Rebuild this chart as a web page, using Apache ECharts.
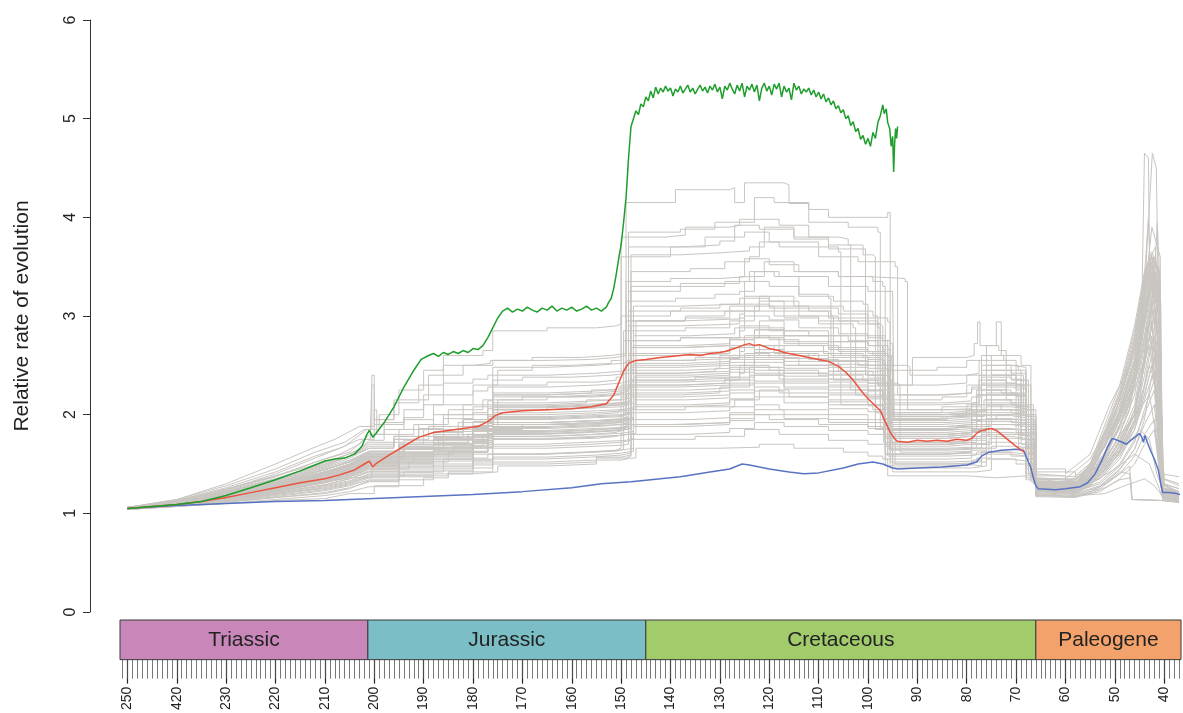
<!DOCTYPE html>
<html><head><meta charset="utf-8">
<script src="https://cdn.jsdelivr.net/npm/echarts@6/dist/echarts.min.js"></script>
<style>html,body{margin:0;padding:0;background:#fff}#c{width:1183px;height:713px}</style>
</head><body><div id="c"></div>
<script>
// ---------- DATA (age in Ma, relative rate) ----------
const tickValues = [250,240,230,220,210,200,190,180,170,160,150,140,130,120,110,100,90,80,70,60,50,40];
const tickLabels = ['250','420','230','220','210','200','190','180','170','160','150','140','130','120','110','100','90','80','70','60','50','40'];
const yTicks = [0,1,2,3,4,5,6];

const periodNames = ['Triassic','Jurassic','Cretaceous','Paleogene'];
const periodStart = [251.9, 201.3, 145, 66];
const periodEnd = [201.3, 145, 66, 23];
const periodColors = ['#C886B9','#7BBEC5','#A2CB6C','#F3A26C'];

const gray01 = [250,1.04,240,1.07,230,1.10,220,1.13,210,1.15,205,1.20,200,1.28,190,1.36,185,1.40,180,1.42,175,1.48,165,1.50,155,1.54,150,1.56,148,1.56,147,1.66,130,1.67,122,1.70,115,1.66,105,1.62,100,1.58,97,1.55,96,1.38,80,1.36,74,1.38,68,1.34,66,1.20,60,1.17,52,1.20,48,1.28,44,1.35,42,1.28,40,1.15,37,1.13];
const gray02 = [250,1.05,240,1.08,230,1.12,220,1.16,210,1.20,205,1.25,201,1.33,195,1.38,185,1.42,176,1.50,165,1.52,155,1.56,149,1.58,148,1.75,135,1.78,125,1.85,118,1.80,108,1.74,100,1.70,96,1.66,95,1.42,78,1.44,75,1.55,70,1.50,67,1.36,66,1.25,58,1.22,55,1.30,50,1.45,46,1.60,43,1.50,41,1.25,40.5,1.18,37,1.16];
const gray03 = [250,1.05,240,1.09,230,1.14,220,1.20,210,1.25,205,1.30,201,1.38,194,1.42,186,1.55,176,1.60,168,1.62,158,1.64,151,1.66,150,1.90,140,1.92,128,2.00,120,1.95,110,1.90,100,1.86,95,1.82,94.5,1.50,80,1.48,77,1.62,71,1.58,67,1.40,66,1.28,58,1.25,54,1.35,49,1.60,45,1.85,43,1.75,41.5,1.40,40,1.20,37,1.18];
const gray04 = [250,1.05,240,1.10,230,1.16,220,1.22,212,1.30,205,1.36,200.5,1.45,193,1.52,185,1.62,177,1.70,166,1.72,157,1.74,149,1.76,147.5,2.05,137,2.08,127,2.15,122,2.25,116,2.18,108,2.10,99,2.05,96.5,2.00,96,1.60,85,1.62,79,1.66,76,1.90,70,1.85,68,1.60,66,1.32,58,1.30,53,1.45,49,1.80,45,2.05,43,2.20,42,1.90,40.2,1.25,37,1.22];
const gray05 = [250,1.06,240,1.10,230,1.18,220,1.26,210,1.36,205,1.42,201,1.52,192,1.60,184,1.68,178,1.80,168,1.82,158,1.84,152,1.86,149,2.20,138,2.22,130,2.28,124,2.40,117,2.32,108,2.25,100,2.18,97,2.12,96.8,1.72,82,1.74,79,1.95,74,2.00,70,1.90,67,1.55,66,1.30,57,1.28,52,1.55,48,2.00,45,2.40,43,2.70,41.5,2.20,40,1.30,37,1.25];
const gray06 = [250,1.05,240,1.11,230,1.20,220,1.30,210,1.42,205,1.50,201,1.60,195,1.68,188,1.75,180,1.85,170,1.90,160,1.92,150,1.95,148,2.35,135,2.38,126,2.50,120,2.45,110,2.40,101,2.35,98,2.30,97.5,1.85,82,1.88,78,2.10,73,2.05,69,1.80,66.5,1.35,58,1.33,52,1.60,47,2.10,44,3.00,42.5,3.40,41,2.60,40,1.28,37,1.20];
const gray07 = [250,1.06,240,1.12,230,1.22,220,1.34,210,1.48,205,1.58,201,1.70,196,1.78,190,1.85,182,1.95,176,2.05,165,2.08,155,2.10,150,2.12,147,2.55,135,2.58,126,2.70,119,2.62,110,2.55,100,2.50,95.5,2.45,95,2.00,82,2.02,77,2.30,72,2.20,68,1.90,66,1.40,58,1.37,54,1.50,50,1.90,46,2.40,43.5,3.50,41.8,3.70,41,3.00,40.3,1.35,37,1.28];
const gray08 = [250,1.06,240,1.13,230,1.25,220,1.38,210,1.55,205,1.62,202,1.75,200,2.05,199.5,1.80,192,1.90,185,2.05,178,2.15,170,2.18,160,2.20,151,2.22,149.5,2.75,138,2.78,126,2.90,120,2.85,112,2.80,104,2.75,98,2.70,97,2.15,85,2.18,80,2.30,76,2.50,71,2.45,68,2.10,66.5,1.38,60,1.35,55,1.55,50,2.00,46,2.70,44,3.20,42.5,3.90,40.8,3.60,40.5,1.30,37,1.25];
const gray09 = [250,1.05,240,1.12,230,1.24,220,1.40,210,1.60,206,1.68,201.5,1.85,200.5,2.40,200,1.90,194,1.95,188,2.10,180,2.30,175,2.45,168,2.50,160,2.52,152,2.55,150,3.00,140,3.05,128,3.10,122,3.20,115,3.10,105,3.05,99,3.00,98,2.30,86,2.32,80,2.40,76,2.70,74,2.94,73,2.60,69,2.50,67,1.45,60,1.40,55,1.60,51,2.10,47,2.50,44.5,3.20,44,4.65,43.2,4.60,42.8,2.80,40,1.35,37,1.30];
const gray10 = [250,1.06,240,1.14,230,1.28,220,1.45,212,1.62,206,1.72,202,1.85,199,2.00,195,2.25,190,2.45,186,2.60,178,2.65,176,2.85,165,2.88,155,2.90,151,2.92,150,3.60,140,3.70,133,3.80,125,3.85,120,3.75,110,3.70,106,3.65,105.5,2.60,96,2.55,95.5,2.00,84,2.02,78,2.20,72,2.15,68,1.85,66.5,1.30,59,1.28,55,1.40,50,1.90,45.5,2.60,44,3.40,43.2,4.00,42.5,3.00,40.8,1.90,40.3,1.25,37,1.20];
const gray11 = [250,1.06,240,1.14,230,1.30,220,1.50,213,1.65,208,1.75,203,1.88,200,1.95,196,2.15,189,2.40,182,2.50,176,2.55,168,2.58,158,2.60,152,2.62,149,4.15,139,4.28,128,4.30,127,4.15,125,4.35,117,4.33,116,4.14,112,4.08,108,4.00,96,4.05,95.5,2.30,91,2.58,80,2.60,78.5,2.72,77.8,2.94,77.3,2.70,73.5,2.65,72,2.20,68,1.95,66.5,1.35,60,1.32,56,1.40,52,1.75,47,2.20,44.5,2.80,42.4,4.65,41.6,4.50,41.2,3.20,40.5,1.30,37,1.22];
const gray12 = [250,1.05,240,1.12,230,1.24,220,1.38,210,1.52,204,1.62,201,1.72,195,1.85,188,2.00,182,2.10,176,2.35,170,2.38,160,2.40,152,2.42,148.5,3.85,138,3.88,131,3.95,124,3.95,123,4.20,119,4.15,112,3.95,104,3.90,98,3.85,97.5,2.45,86,2.48,80,2.55,77,2.60,75,2.40,70,2.30,67,1.60,66,1.32,58,1.30,53,1.50,48,1.95,45,2.50,43,3.10,41,3.40,40.2,1.28,37,1.22];
const gray13 = [250,1.05,240,1.11,230,1.22,220,1.35,210,1.50,205,1.58,201,1.66,196,1.75,189,1.88,182,2.00,176,2.20,166,2.22,156,2.25,151,2.28,148,3.45,136,3.48,129,3.55,124,3.60,122,3.75,118,3.70,110,3.60,102,3.55,94.5,3.50,94,2.20,86,2.22,79,2.28,77,2.60,72.5,2.55,70,2.05,66.5,1.42,58,1.38,54,1.55,50,1.85,46,2.30,44,3.30,42,3.60,40.4,1.40,37,1.37];
const gray14 = [250,1.05,240,1.10,230,1.20,220,1.32,210,1.45,205,1.52,201,1.60,195,1.70,190,1.78,183,1.92,176,2.10,166,2.12,157,2.15,150,2.18,148.5,3.25,138,3.30,129,3.35,124,3.40,121,3.55,115,3.45,106,3.40,99,3.35,97,3.30,96.5,2.10,85,2.12,78,2.20,76,2.45,71,2.40,68.5,2.00,66,1.35,58,1.30,54,1.42,50,1.70,47,2.05,44,2.90,42.5,3.30,41,2.60,40.5,1.22,37,1.18];
const gray15 = [250,1.05,240,1.10,230,1.19,220,1.30,210,1.42,205,1.49,201,1.57,194,1.66,187,1.75,180,1.85,176,1.98,165,2.00,156,2.02,150.5,2.05,149,2.95,137,3.00,129,3.05,123,3.10,119,3.00,110,2.95,102,2.92,97.5,2.90,97,1.95,85,1.98,79.5,2.05,77,2.25,72,2.20,69,1.88,66.5,1.30,58,1.28,54,1.40,50,1.70,46,2.00,44,2.50,42.8,3.00,41,2.30,40.5,1.20,37,1.17];
const gray16 = [250,1.05,240,1.09,230,1.17,220,1.27,210,1.38,205,1.45,201,1.52,195,1.60,188,1.70,180,1.78,176,1.90,166,1.92,156,1.94,150,1.96,147.5,2.80,136,2.82,127,2.88,122,2.95,117,2.85,108,2.80,100,2.75,95.5,2.72,95,1.90,85,1.92,79,1.98,76.5,2.15,71,2.10,68,1.75,66,1.28,58,1.26,53,1.38,49,1.62,46,1.95,44,2.30,42,2.70,40.6,2.10,40.2,1.18,37,1.15];
const gray17 = [250,1.05,240,1.09,230,1.16,220,1.25,210,1.35,205,1.42,201,1.48,195,1.55,188,1.64,180,1.72,176,1.82,166,1.84,156,1.86,151,1.88,148.5,2.60,137,2.62,128,2.68,123,2.78,118,2.70,109,2.62,101,2.58,97,2.55,96.5,1.80,84,1.82,78,1.88,75,2.05,70,2.00,67,1.45,66,1.26,58,1.24,53,1.35,49,1.55,46,1.85,44,2.15,42,2.45,40.4,1.17,37,1.14];
const gray18 = [250,1.04,240,1.08,230,1.14,220,1.22,210,1.31,205,1.37,201,1.43,195,1.50,188,1.58,180,1.66,176,1.75,166,1.77,156,1.79,150,1.81,147,2.40,136,2.42,128,2.48,123,2.58,117,2.50,108,2.44,100,2.40,95.8,2.36,95.3,1.70,84,1.72,78,1.78,75.5,1.95,70,1.92,67.5,1.50,66,1.24,58,1.22,53,1.32,49,1.50,46,1.75,44,2.00,42,2.25,40.3,1.16,37,1.13];
const gray19 = [250,1.04,240,1.08,230,1.13,220,1.20,210,1.28,205,1.33,201,1.40,195,1.46,188,1.53,180,1.60,176,1.68,166,1.70,156,1.72,150,1.74,148,2.25,136,2.27,128,2.32,123,2.42,118,2.36,108,2.30,100,2.25,96,2.22,95.6,1.65,84,1.66,78,1.70,75,1.85,70,1.82,67.5,1.42,66,1.22,58,1.20,53,1.28,49,1.45,46,1.65,44,1.90,42,2.10,40.3,1.15,37,1.12];
const gray20 = [250,1.04,240,1.07,230,1.12,220,1.18,210,1.24,205,1.29,201,1.36,195,1.41,188,1.47,180,1.53,176,1.60,166,1.62,156,1.64,150,1.66,147.5,2.10,136,2.12,128,2.16,123,2.28,118,2.22,108,2.15,100,2.10,96.5,2.07,96,1.58,84,1.59,78,1.62,75.5,1.76,70,1.74,67,1.38,66,1.20,58,1.18,53,1.25,49,1.40,46,1.58,44,1.80,42,1.95,40.3,1.14,37,1.11];
const gray21 = [250,1.05,240,1.11,230,1.21,220,1.33,210,1.46,205,1.54,201,1.63,194,1.74,186,1.85,177,1.98,176,2.30,165,2.33,155,2.35,151,2.38,150,3.80,141,3.82,137,3.90,128,3.92,126,3.98,118,3.92,112,3.80,106,3.78,104,3.72,103.5,2.25,97,2.22,96.5,1.80,84,1.82,79,1.90,76,2.12,70,2.08,67,1.50,66,1.28,58,1.26,53,1.40,48,1.70,45,2.05,43,2.50,41,2.20,40.2,1.20,37,1.17];
const gray22 = [250,1.05,240,1.10,230,1.19,220,1.30,210,1.41,205,1.48,201,1.56,194,1.65,186,1.75,177,1.88,175,2.15,165,2.18,155,2.20,150,2.22,148,3.62,138,3.64,130,3.66,124,3.70,121,3.90,115,3.80,108,3.68,101,3.62,99,3.60,98.5,2.02,85,2.05,80,2.10,77.5,2.35,72,2.30,69,1.95,66.2,1.32,58,1.29,53,1.42,49,1.68,45,2.10,43.5,2.90,41.5,3.10,40.4,1.22,37,1.19];
const gray23 = [250,1.05,240,1.10,230,1.18,220,1.28,210,1.40,205,1.47,201,1.55,195,1.62,188,1.72,181,1.80,177,1.86,176,2.05,165,2.07,155,2.10,151,2.12,149,3.15,139,3.18,131,3.22,126,3.25,123,3.45,119,3.40,114,3.20,107,3.15,101,3.12,100,2.80,96.5,2.75,96,2.00,85,2.02,80,2.05,76,2.35,72,2.32,70,2.25,69,1.70,66.3,1.30,58,1.27,54,1.35,50,1.55,46,1.90,44,2.30,42.5,2.75,40.8,1.60,40.3,1.19,37,1.16];
const gray24 = [250,1.05,240,1.10,230,1.17,220,1.26,210,1.36,205,1.43,201,1.50,195,1.57,188,1.66,180,1.74,176,1.80,166,1.82,156,1.84,150,1.86,148,2.50,137,2.52,128,2.58,123,2.66,118,2.60,110,2.54,102,2.50,92,2.48,91.5,2.40,80,2.42,77.5,2.55,72,2.50,69.5,2.45,69,1.75,66.2,1.30,58,1.28,54,1.38,50,1.60,46,2.00,44,2.60,42.2,3.20,41.4,3.94,40.7,3.10,40.3,1.22,37,1.19];
const gray25 = [250,1.06,240,1.13,230,1.26,220,1.42,212,1.58,207,1.66,203,1.75,200.8,1.85,200.5,2.30,200,1.95,196,2.12,191,2.30,186,2.50,180,2.52,176.5,2.55,165,2.56,156,2.58,151,2.60,149,3.35,140,3.38,130,3.40,124,3.45,118,3.40,108,3.30,100,3.25,95,3.20,94.7,1.95,84,1.98,80,2.05,75,2.40,70,2.35,67.5,1.75,66,1.30,58,1.28,54,1.38,50,1.65,46,2.00,44,2.55,42,3.00,40.4,1.20,37,1.16];
const gray26 = [250,1.04,240,1.07,230,1.11,220,1.16,210,1.21,205,1.26,201,1.32,195,1.37,188,1.43,180,1.49,176,1.55,166,1.57,156,1.59,150,1.61,148,1.95,136,1.97,128,2.02,123,2.10,118,2.05,108,2.00,100,1.95,96,1.93,95.5,1.52,84,1.53,78,1.56,75,1.68,70,1.66,67,1.32,66,1.18,58,1.17,53,1.22,49,1.35,46,1.50,44,1.70,42,1.85,40.3,1.13,37,1.11];
const gray27 = [250,1.05,240,1.09,230,1.15,220,1.23,210,1.32,205,1.39,201,1.46,195,1.52,188,1.60,180,1.67,176,1.78,166,1.80,156,1.82,151,1.84,150,2.30,138,2.32,129,2.36,124,2.48,118,2.42,108,2.36,100,2.32,94,2.30,93.5,1.62,84,1.63,79,1.66,77,1.80,70,1.78,67,1.36,66,1.21,58,1.19,53,1.27,49,1.44,46,1.65,44,1.95,42.5,2.40,41,2.10,40.2,1.15,37,1.12];
const gray28 = [250,1.05,240,1.10,230,1.19,220,1.31,210,1.44,205,1.52,201,1.61,195,1.70,188,1.82,182,1.95,177,2.08,176,2.22,165,2.24,155,2.26,150,2.28,147.5,2.70,137,2.72,128,2.78,122,2.88,117,2.80,108,2.74,100,2.70,96,2.66,95.7,1.86,84,1.88,78,1.93,76,2.10,70,2.08,67.5,1.62,66,1.27,58,1.25,53,1.36,49,1.58,46,1.90,44,2.20,42,2.60,40.4,1.18,37,1.15];
const gray29 = [250,1.05,240,1.10,230,1.18,220,1.29,210,1.41,205,1.49,201,1.58,195,1.66,188,1.77,182,1.88,177,2.00,165,2.02,155,2.04,149,2.06,147,2.95,137,2.98,128,3.05,122,3.15,117,3.05,108,2.98,100,2.95,98,2.92,97.5,2.05,85,2.08,79,2.12,77.5,2.40,71,2.36,69,2.00,66.5,1.32,58,1.30,53,1.40,49,1.65,46,2.05,44,2.60,42.5,3.20,41.2,3.50,40.6,1.25,37,1.20];
const gray30 = [250,1.05,240,1.10,230,1.18,220,1.28,210,1.39,205,1.46,201,1.54,195,1.62,188,1.71,181,1.80,176,1.92,165,1.94,155,1.96,150,1.98,148.5,3.05,138,3.08,130,3.12,125,3.18,120,3.10,112,3.05,107.5,3.00,107,2.35,97,2.30,96.5,1.76,84,1.78,79,1.83,76,2.00,70,1.98,67,1.40,66,1.24,58,1.22,53,1.30,49,1.48,46,1.72,44,2.05,42,2.35,40.3,1.16,37,1.13];
const gray31 = [250,1.05,240,1.08,230,1.13,220,1.19,210,1.27,205,1.32,201,1.39,195,1.44,188,1.50,180,1.56,177,1.60,176,1.66,165,1.68,155,1.69,150,1.70,148.5,1.90,137,1.92,128,1.96,123,2.05,117,2.00,108,1.95,100,1.92,95.5,1.90,95,1.50,84,1.51,79,1.54,77,1.62,71,1.60,68,1.40,66,1.19,58,1.17,55,1.22,52,1.30,49,1.42,47,1.40,46.5,1.14,40.5,1.13,37,1.12];
const gray32 = [250,1.05,240,1.09,230,1.15,220,1.22,210,1.31,205,1.37,201,1.45,195,1.50,188,1.57,180,1.63,177,1.68,176,1.75,165,1.76,155,1.78,151,1.80,149.5,2.02,137,2.04,128,2.08,123,2.18,117,2.12,108,2.06,100,2.03,97,2.00,96.5,1.55,84,1.56,79,1.60,76,1.72,71,1.70,68,1.45,66,1.22,58,1.20,55,1.28,52,1.45,49,1.65,46,1.95,44,2.40,42.5,2.80,41,2.20,40.3,1.16,37,1.14];
const gray33 = [250,1.05,240,1.09,230,1.14,220,1.21,210,1.29,205,1.35,201,1.42,195,1.47,188,1.55,180,1.62,177,1.70,176,1.78,165,1.80,155,1.81,150,1.83,147.5,2.15,137,2.17,128,2.22,123,2.32,117,2.26,108,2.20,100,2.16,96,2.14,95.5,1.64,84,1.65,79,1.70,76,1.82,71,1.80,67.5,1.40,66,1.23,58,1.21,55,1.30,52,1.50,49,1.75,46,2.10,44,2.70,42.5,3.10,41,2.50,40.3,1.18,37,1.15];
const gray34 = [250,1.05,240,1.09,230,1.15,220,1.23,210,1.33,205,1.39,201,1.47,195,1.53,188,1.61,180,1.68,177,1.74,176,1.83,165,1.85,155,1.86,150,1.88,148,2.22,137,2.24,128,2.30,123,2.40,117,2.34,108,2.28,100,2.24,97,2.20,96.5,1.68,84,1.70,79,1.74,76,1.90,71,1.88,68,1.55,66,1.25,58,1.23,55,1.34,52,1.58,49,1.90,46,2.30,44,2.90,42.5,3.30,41,2.80,40.3,1.19,37,1.16];
const gray35 = [250,1.05,240,1.10,230,1.16,220,1.24,210,1.35,205,1.41,201,1.49,195,1.55,188,1.63,180,1.71,177,1.77,176,1.87,165,1.89,155,1.90,150,1.92,148.5,2.30,137,2.32,128,2.38,123,2.48,117,2.42,108,2.36,100,2.32,96,2.28,95.5,1.72,84,1.74,79,1.78,76,1.96,71,1.94,68,1.60,66,1.26,58,1.24,55,1.36,52,1.62,49,1.98,46,2.45,44,3.10,42.5,3.45,41,3.00,40.3,1.20,37,1.17];
const gray36 = [250,1.05,240,1.10,230,1.17,220,1.26,210,1.37,205,1.44,201,1.52,195,1.59,188,1.67,180,1.75,177,1.81,176,1.92,165,1.94,155,1.95,150,1.97,147.5,2.38,137,2.40,128,2.46,123,2.56,117,2.50,108,2.44,100,2.40,97,2.36,96.5,1.78,84,1.80,79,1.84,76,2.02,71,2.00,68,1.66,66,1.28,58,1.26,55,1.40,52,1.70,49,2.05,46,2.55,44,3.20,42.5,3.55,41,3.10,40.3,1.22,37,1.18];
const gray37 = [250,1.05,240,1.10,230,1.18,220,1.27,210,1.39,205,1.46,201,1.55,195,1.62,188,1.71,180,1.79,177,1.85,176,1.97,165,1.99,155,2.00,150,2.02,148,2.45,137,2.47,128,2.53,123,2.63,117,2.57,108,2.51,100,2.47,96,2.43,95.5,1.82,84,1.84,79,1.88,76,2.08,71,2.06,68,1.70,66,1.29,58,1.27,55,1.42,52,1.75,49,2.15,46,2.65,44,3.30,42.5,3.60,41,3.20,40.3,1.23,37,1.19];
const gray38 = [250,1.05,240,1.10,230,1.18,220,1.28,210,1.40,205,1.48,201,1.57,195,1.65,188,1.74,180,1.83,177,1.89,176,2.02,165,2.04,155,2.05,150,2.07,147.5,2.52,137,2.54,128,2.60,123,2.70,117,2.64,108,2.58,100,2.54,97,2.50,96.5,1.88,84,1.90,79,1.95,76,2.15,71,2.12,68,1.75,66,1.30,58,1.28,55,1.45,52,1.80,49,2.20,46,2.75,44,3.35,42.5,3.50,41,3.30,40.3,1.24,37,1.20];
const gray39 = [250,1.05,240,1.11,230,1.19,220,1.30,210,1.42,205,1.50,201,1.59,195,1.67,188,1.77,180,1.86,177,1.93,176,2.07,165,2.09,155,2.10,150,2.12,148.5,2.60,137,2.62,128,2.68,123,2.78,117,2.72,108,2.66,100,2.62,96,2.58,95.5,1.92,84,1.94,79,1.99,76,2.20,71,2.18,68,1.80,66,1.31,58,1.29,55,1.48,52,1.85,49,2.25,46,2.85,44,3.40,42.5,3.60,41,3.40,40.3,1.25,37,1.21];
const gray40 = [250,1.05,240,1.11,230,1.20,220,1.31,210,1.44,205,1.52,201,1.62,195,1.70,188,1.80,180,1.89,177,1.96,176,2.12,165,2.14,155,2.15,150,2.17,148,2.68,137,2.70,128,2.76,123,2.86,117,2.80,108,2.74,100,2.70,97,2.66,96.5,1.96,84,1.98,79,2.03,76,2.25,71,2.22,68,1.85,66,1.32,58,1.30,55,1.50,52,1.90,49,2.30,46,2.90,44,3.45,42.5,3.65,41,3.45,40.3,1.26,37,1.22];
const gray41 = [250,1.04,240,1.08,230,1.13,220,1.19,210,1.26,205,1.31,201,1.37,195,1.42,188,1.48,180,1.54,176,1.60,165,1.62,155,1.63,151,1.65,149.5,2.85,137,2.88,128,2.95,123,3.05,117,2.98,110,2.92,103,2.88,102.5,2.20,97,2.15,96.5,1.70,84,1.72,79,1.76,77,1.95,71,1.92,68,1.62,66,1.26,58,1.24,55,1.32,52,1.48,49,1.72,46,2.05,44,2.50,42.5,2.95,41,2.40,40.3,1.17,37,1.14];
const gray42 = [250,1.05,240,1.10,230,1.17,220,1.26,210,1.36,205,1.43,201,1.51,195,1.58,188,1.66,180,1.73,177,1.78,176,1.88,165,1.90,155,1.92,150,1.94,148,2.42,138,2.44,131,2.47,130,2.60,122,2.70,118,2.62,112,2.56,106,2.50,105.5,2.10,97,2.08,96.5,1.60,84,1.62,79,1.66,74,1.80,70,1.78,67,1.42,66,1.24,58,1.22,55,1.30,52,1.42,49,1.62,46,1.85,44,2.20,42.5,2.50,41,2.00,40.3,1.16,37,1.13];
const gray43 = [250,1.05,240,1.09,230,1.16,220,1.25,210,1.34,205,1.40,201,1.48,195,1.54,188,1.62,180,1.69,177,1.74,176,1.84,165,1.86,155,1.87,150,1.89,148.5,2.33,138,2.35,126,2.42,125,2.62,120,2.58,114,2.50,106,2.44,99,2.40,98.5,1.85,88,1.86,84,1.88,79,1.92,78,2.25,73,2.22,70,2.18,69.5,1.66,66,1.28,58,1.26,55,1.38,52,1.60,49,1.88,46,2.30,44,2.80,42.5,3.15,41,2.70,40.3,1.19,37,1.16];
const gray44 = [250,1.05,240,1.10,230,1.17,220,1.27,210,1.38,205,1.45,201,1.53,195,1.60,188,1.69,180,1.77,177,1.83,176,1.95,165,1.97,155,1.98,150,2.00,149,2.55,138,2.57,126,2.64,125,2.80,120,2.76,114,2.70,106,2.64,99,2.60,95.2,2.56,94.8,1.98,84,2.00,79,2.05,76,2.30,71,2.28,68,1.90,66,1.33,58,1.31,55,1.44,52,1.68,49,1.98,46,2.40,44,3.00,42.5,3.35,41,3.10,40.3,1.22,37,1.18];
const gray45 = [250,1.05,240,1.10,230,1.18,220,1.29,210,1.41,205,1.49,201,1.58,195,1.66,188,1.76,180,1.86,177,1.93,176,2.08,165,2.10,155,2.12,150,2.14,148,2.75,138,2.78,126,2.85,125,3.00,120,2.96,114,2.88,106,2.82,100,2.78,97,2.75,96.5,2.12,84,2.14,79,2.18,77,2.45,71,2.42,68,1.98,66,1.35,58,1.33,55,1.48,52,1.75,49,2.10,46,2.55,44,3.15,42.5,3.50,41,3.20,40.3,1.24,37,1.20];
const gray46 = [250,1.05,240,1.11,230,1.20,220,1.31,210,1.44,205,1.53,201,1.63,195,1.72,188,1.83,180,1.93,177,2.00,176,2.18,165,2.20,155,2.22,150,2.24,148.5,2.90,138,2.92,126,2.98,125,3.12,120,3.08,114,3.00,106,2.95,100,2.92,98,2.88,97.5,2.20,84,2.22,79,2.26,77,2.50,71,2.48,68,2.05,66,1.36,58,1.34,55,1.50,52,1.80,49,2.15,46,2.65,44,3.25,42.5,3.55,41,3.30,40.3,1.26,37,1.21];
const gray47 = [250,1.04,240,1.07,230,1.10,220,1.14,210,1.18,205,1.22,201,1.27,195,1.34,188,1.40,180,1.46,176,1.52,165,1.54,155,1.57,150,1.59,148,1.80,137,1.82,128,1.86,123,1.92,117,1.88,108,1.84,100,1.80,96,1.78,95.5,1.46,84,1.46,79,1.48,76,1.55,71,1.53,68,1.36,66,1.17,58,1.16,55,1.20,52,1.26,49,1.34,46.8,1.36,46.5,1.14,40.5,1.13,37,1.12];
const gray48 = [250,1.05,240,1.08,230,1.12,220,1.17,210,1.23,205,1.28,201,1.34,195,1.39,188,1.45,180,1.51,176,1.57,165,1.59,155,1.61,150,1.63,147.5,1.88,137,1.90,128,1.94,123,2.00,117,1.96,108,1.92,100,1.88,97,1.85,96.5,1.48,84,1.49,79,1.52,76,1.60,71,1.58,68,1.38,66,1.18,58,1.17,55,1.21,52,1.30,49,1.40,47,1.48,46.6,1.14,40.5,1.13,37,1.11];
const gray49 = [250,1.06,240,1.12,230,1.23,220,1.37,212,1.52,207,1.60,203,1.70,201,1.80,198,1.92,194,2.05,190,2.20,186,2.32,180,2.36,177,2.40,176,2.48,165,2.50,155,2.52,150,2.54,148,3.30,138,3.33,126,3.40,125,3.58,120,3.52,114,3.45,106,3.40,100,3.38,92.5,3.35,92,2.05,84,2.06,79,2.10,77,2.38,71,2.35,68,1.92,66,1.33,58,1.31,55,1.45,52,1.70,49,2.05,46,2.50,44,3.05,42.5,3.40,41,3.20,40.3,1.23,37,1.19];
const gray50 = [250,1.06,240,1.12,230,1.22,220,1.35,212,1.48,207,1.56,203,1.65,201,1.74,198,1.85,194,1.97,190,2.10,186,2.20,180,2.24,177,2.28,176,2.40,165,2.42,155,2.44,150,2.46,147.5,3.10,138,3.12,126,3.18,125,3.35,120,3.30,114,3.22,108,3.18,107.5,2.60,100,2.56,97,2.52,96.5,1.88,84,1.90,79,1.94,77,2.20,71,2.18,68,1.82,66,1.30,58,1.28,55,1.40,52,1.62,49,1.95,46,2.40,44,2.95,42.5,3.30,41,3.00,40.3,1.21,37,1.17];
const gray51 = [250,1.05,240,1.11,230,1.21,220,1.33,210,1.47,205,1.56,201,1.66,196,1.75,191,1.86,186,1.96,180,2.02,177,2.06,176,2.20,165,2.22,155,2.24,150,2.26,148,2.95,138,2.97,126,3.02,125,3.20,120,3.15,114,3.08,106,3.02,100,2.98,96,2.94,95.5,2.02,84,2.04,79,2.08,77,2.32,71,2.30,68,1.90,66,1.32,58,1.30,55,1.43,52,1.68,49,2.00,46,2.45,44,3.00,42.5,3.35,41,3.10,40.3,1.22,37,1.18];
const gray52 = [250,1.05,240,1.09,230,1.15,220,1.23,210,1.32,205,1.38,201,1.45,195,1.51,188,1.59,180,1.66,177,1.72,176,1.81,165,1.83,155,1.84,150,1.86,148,2.18,138,2.20,128,2.25,123,2.34,117,2.28,108,2.22,100,2.18,96,2.15,95.5,1.66,84,1.67,79,1.71,76,1.86,71,1.84,68,1.55,66,1.25,58,1.23,55,1.32,52,1.52,49,1.80,46,2.20,44,2.75,42.5,3.05,41,2.70,40.3,1.18,37,1.15];
const gray53 = [250,1.05,240,1.10,230,1.16,220,1.25,210,1.35,205,1.42,201,1.50,195,1.57,188,1.65,180,1.73,177,1.79,176,1.90,165,1.92,155,1.93,150,1.95,148.5,2.35,138,2.37,128,2.43,123,2.53,117,2.47,108,2.41,100,2.37,97,2.33,96.5,1.76,84,1.78,79,1.82,76,1.99,71,1.97,68,1.65,66,1.27,58,1.25,55,1.37,52,1.62,49,1.95,46,2.40,44,3.00,42.5,3.40,41,3.00,40.3,1.20,37,1.17];
const gray54 = [250,1.05,240,1.10,230,1.17,220,1.27,210,1.38,205,1.45,201,1.54,195,1.61,188,1.70,180,1.78,177,1.84,176,1.96,165,1.98,155,1.99,150,2.01,148,2.48,138,2.50,128,2.56,123,2.66,117,2.60,108,2.54,100,2.50,96,2.46,95.5,1.84,84,1.86,79,1.90,76,2.10,71,2.08,68,1.72,66,1.29,58,1.27,55,1.42,52,1.72,49,2.10,46,2.60,44,3.20,42.5,3.50,41,3.20,40.3,1.23,37,1.19];
const gray55 = [250,1.05,240,1.10,230,1.18,220,1.28,210,1.40,205,1.48,201,1.57,195,1.65,188,1.75,180,1.84,177,1.91,176,2.05,165,2.07,155,2.08,150,2.10,148.5,2.62,138,2.64,128,2.70,123,2.80,117,2.74,108,2.68,100,2.64,96.5,2.60,96,1.94,84,1.96,79,2.00,76,2.22,71,2.20,68,1.82,66,1.31,58,1.29,55,1.46,52,1.78,49,2.15,46,2.70,44,3.30,42.5,3.60,41,3.40,40.3,1.24,37,1.20];
const gray56 = [250,1.05,240,1.09,230,1.14,220,1.21,210,1.29,205,1.35,201,1.42,195,1.48,188,1.55,180,1.62,177,1.67,176,1.76,165,1.78,155,1.79,150,1.81,147.5,2.08,138,2.10,128,2.15,123,2.24,117,2.18,108,2.13,100,2.09,97,2.06,96.5,1.60,84,1.61,79,1.64,76,1.78,71,1.76,68,1.48,66,1.23,58,1.21,55,1.29,52,1.46,49,1.68,46,2.00,44,2.50,42.5,2.90,41,2.50,40.3,1.17,37,1.14];
const gray57 = [250,1.06,240,1.12,230,1.22,220,1.35,210,1.49,205,1.58,201,1.68,196,1.78,191,1.90,186,2.00,180,2.08,177,2.14,176,2.28,165,2.30,155,2.32,150,2.34,148.5,3.70,138,3.72,130,3.76,127,3.92,122,3.88,115,3.78,108,3.72,101,3.68,100.5,2.40,97,2.36,96.5,1.78,84,1.80,79,1.85,77,2.05,71,2.02,68,1.68,66,1.29,58,1.27,55,1.42,52,1.70,49,2.05,46,2.50,44,3.10,42.5,3.45,41,3.20,40.3,1.22,37,1.18];
const gray58 = [250,1.05,240,1.09,230,1.15,220,1.24,210,1.33,205,1.40,201,1.48,195,1.55,188,1.63,180,1.71,177,1.76,176,1.86,165,1.88,155,1.90,150,1.92,148,2.28,138,2.30,128,2.35,123,2.45,117,2.39,108,2.33,100,2.29,96,2.25,95.5,1.70,84,1.72,79,1.76,76,1.93,71,1.91,68,1.60,66,1.26,58,1.24,55,1.35,52,1.58,49,1.90,46,2.35,44,2.95,42.5,3.35,41,2.95,40.3,1.19,37,1.16];
const gray59 = [250,1.05,240,1.10,230,1.17,220,1.26,210,1.36,205,1.43,201,1.51,195,1.58,188,1.67,180,1.75,177,1.80,176,1.92,165,1.94,155,1.95,150,1.97,148.5,2.42,138,2.44,128,2.50,123,2.60,117,2.54,108,2.48,100,2.44,97,2.40,96.5,1.80,84,1.82,79,1.86,76,2.05,71,2.03,68,1.68,66,1.28,58,1.26,55,1.40,52,1.68,49,2.02,46,2.50,44,3.10,42.5,3.45,41,3.10,40.3,1.21,37,1.18];
const gray60 = [250,1.05,240,1.11,230,1.19,220,1.30,210,1.42,205,1.50,201,1.60,195,1.68,188,1.78,180,1.87,177,1.94,176,2.09,165,2.11,155,2.12,150,2.14,148,2.68,138,2.70,128,2.76,123,2.86,117,2.80,108,2.74,100,2.70,96,2.66,95.5,1.98,84,2.00,79,2.05,76,2.28,71,2.26,68,1.88,66,1.32,58,1.30,55,1.48,52,1.82,49,2.22,46,2.80,44,3.40,42.5,3.60,41,3.45,40.3,1.25,37,1.21];

const grayLines = [gray01,gray02,gray03,gray04,gray05,gray06,gray07,gray08,gray09,gray10,gray11,gray12,gray13,gray14,gray15,gray16,gray17,gray18,gray19,gray20,gray21,gray22,gray23,gray24,gray25,gray26,gray27,gray28,gray29,gray30,gray31,gray32,gray33,gray34,gray35,gray36,gray37,gray38,gray39,gray40,gray41,gray42,gray43,gray44,gray45,gray46,gray47,gray48,gray49,gray50,gray51,gray52,gray53,gray54,gray55,gray56,gray57,gray58,gray59,gray60];

const greenLine = [250,1.05,245,1.07,240,1.09,235,1.12,230,1.18,225,1.26,220,1.34,215,1.43,212,1.49,210,1.53,208,1.55,206,1.56,204,1.60,202.5,1.68,201.5,1.80,201,1.84,200.3,1.77,199.5,1.82,198,1.92,196,2.08,194,2.28,192,2.45,190.5,2.56,189,2.60,188,2.62,187,2.59,186,2.63,185,2.61,184,2.64,183,2.62,182,2.65,181,2.63,180,2.67,179,2.66,178,2.70,177,2.78,176,2.88,175,2.98,174,3.05,173,3.08,172,3.04,171,3.07,170,3.05,169,3.09,168,3.06,167,3.04,166,3.08,165,3.06,164,3.10,163,3.05,162,3.08,161,3.06,160,3.09,159,3.05,158,3.07,157,3.10,156,3.06,155,3.08,154,3.05,153,3.09,152.5,3.14,152,3.18,151.5,3.28,151,3.42,150.5,3.58,150,3.72,149.5,3.95,149,4.20,148.5,4.60,148,4.92,147.5,5.00,147,5.08,146.5,5.04,146,5.15,145.5,5.12,145,5.22,144.5,5.18,144,5.28,143.5,5.21,143,5.32,142.5,5.25,142,5.31,141.5,5.27,141,5.33,140.5,5.28,140,5.31,139.5,5.23,139,5.30,138.5,5.27,138,5.33,137.5,5.26,137,5.30,136.5,5.34,136,5.27,135.5,5.31,135,5.25,134.5,5.30,134,5.34,133.5,5.28,133,5.32,132.5,5.26,132,5.33,131.5,5.29,131,5.35,130.5,5.27,130,5.32,129.5,5.20,129,5.33,128.5,5.29,128,5.36,127.5,5.30,127,5.25,126.5,5.34,126,5.28,125.5,5.36,125,5.22,124.5,5.33,124,5.29,123.5,5.35,123,5.27,122.5,5.34,122,5.18,121.5,5.31,121,5.36,120.5,5.28,120,5.33,119.5,5.24,119,5.35,118.5,5.30,118,5.36,117.5,5.22,117,5.33,116.5,5.27,116,5.31,115.5,5.19,115,5.36,114.5,5.29,114,5.33,113.5,5.25,113,5.30,112.5,5.27,112,5.31,111.5,5.24,111,5.29,110.5,5.22,110,5.27,109.5,5.20,109,5.25,108.5,5.17,108,5.21,107.5,5.14,107,5.18,106.5,5.10,106,5.13,105.5,5.06,105,5.09,104.5,5.00,104,5.03,103.5,4.93,103,4.97,102.5,4.87,102,4.90,101.5,4.79,101,4.83,100.5,4.74,100,4.80,99.5,4.72,99,4.86,98.5,4.80,98,4.96,97.5,5.03,97,5.14,96.7,5.05,96.3,5.10,96,4.96,95.6,4.90,95.3,4.72,95,4.82,94.8,4.46,94.6,4.75,94.4,4.90,94.2,4.80,94,4.92];

const redLine = [250,1.05,245,1.07,240,1.09,235,1.12,230,1.16,225,1.21,220,1.26,215,1.31,210,1.35,207,1.39,204,1.44,202,1.50,201,1.53,200.3,1.47,199.5,1.51,197,1.59,194,1.68,191,1.77,188,1.82,185,1.84,182,1.86,179,1.88,177,1.93,175.5,1.99,174,2.02,170,2.04,165,2.05,160,2.06,156,2.08,153,2.11,151.5,2.20,150.5,2.32,149.5,2.44,148.5,2.52,147,2.55,145,2.56,142,2.58,140,2.59,138,2.60,136,2.61,134,2.60,132,2.62,130,2.63,129,2.64,127,2.67,126,2.69,125,2.71,124,2.72,123,2.70,122,2.71,120,2.67,118,2.65,117,2.63,115,2.61,114,2.60,112,2.58,111,2.57,109,2.55,108,2.54,106,2.49,104.5,2.43,103,2.35,101.5,2.25,100,2.16,98.5,2.09,97.5,2.04,96.5,1.93,95.5,1.82,94.5,1.75,94,1.73,92,1.72,90,1.74,88,1.73,86,1.74,84,1.73,82,1.75,80,1.74,79,1.76,78,1.81,77,1.84,76,1.85,75,1.86,74,1.84,73,1.80,72,1.76,71,1.72,70,1.68,69,1.64,68.3,1.62];

const blueLine = [250,1.05,240,1.08,230,1.10,220,1.12,210,1.13,200,1.15,190,1.17,180,1.19,170,1.22,160,1.26,154,1.30,148,1.32,144,1.34,138,1.37,132,1.42,128,1.45,125.5,1.50,124,1.49,120,1.45,116,1.42,113,1.40,110,1.41,105,1.46,102,1.50,99,1.52,97,1.50,95,1.46,94,1.45,90,1.46,85,1.47,80,1.49,78,1.52,77,1.58,75.5,1.62,73,1.64,70,1.65,68.5,1.64,68,1.58,67,1.46,66.5,1.36,66,1.28,65.5,1.25,62,1.24,60,1.25,57,1.27,55.5,1.31,54,1.40,52.5,1.55,51.5,1.67,50.5,1.76,49.5,1.74,48.5,1.72,47.7,1.70,46.8,1.74,45.7,1.78,45,1.81,44.6,1.78,44.2,1.72,43.9,1.79,43.5,1.73,42.8,1.64,42,1.55,41.2,1.44,40.7,1.30,40.3,1.21,39,1.21,37.5,1.20,36.8,1.19];

// ---------- CHART ----------
const AGE_MIN = 36.6, AGE_MAX = 251.5;
const TRIASSIC_END = 201;    // ramps before this age
const CRETACEOUS_END = 66;   // ramps after this age
const FONT = "'Liberation Sans', Arial, sans-serif";
const toPairs = a => { const r = []; for (let i = 0; i < a.length; i += 2) r.push([a[i], a[i+1]]); return r; };
const minorTicks = []; for (let t = 37; t <= 251; t++) minorTicks.push(t);

const series = [];
const grayStyle = { color: '#c9c5c1', width: 1 };
grayLines.forEach(g => {
  const p = toPairs(g);
  let k = 0; while (k + 1 < p.length && p[k + 1][0] >= TRIASSIC_END) k++;
  let m = k; while (m + 1 < p.length && p[m][0] > CRETACEOUS_END) m++;
  series.push({ type: 'line', data: p.slice(0, k + 1), symbol: 'none', silent: true, z: 2, lineStyle: grayStyle });
  series.push({ type: 'line', data: p.slice(k, m + 1), step: 'end', symbol: 'none', silent: true, z: 2, lineStyle: grayStyle });
  series.push({ type: 'line', data: p.slice(m), symbol: 'none', silent: true, z: 2, lineStyle: grayStyle });
});
series.push({ type: 'line', data: toPairs(blueLine), symbol: 'none', silent: true, z: 4, lineStyle: { color: '#5873c2', width: 1.5 } });
series.push({ type: 'line', data: toPairs(redLine), symbol: 'none', silent: true, z: 5, lineStyle: { color: '#e9533f', width: 1.5 } });
series.push({ type: 'line', data: toPairs(greenLine), symbol: 'none', silent: true, z: 6, lineStyle: { color: '#1f9e2c', width: 1.5 } });

series.push({
  type: 'custom', xAxisIndex: 1, yAxisIndex: 1, silent: true, z: 3,
  data: periodNames.map((n, i) => [periodStart[i], periodEnd[i]]),
  encode: { x: [0, 1] },
  renderItem: (params, api) => {
    const a = api.coord([api.value(0), 0]);
    const b = api.coord([api.value(1), 1]);
    const cs = params.coordSys;
    const x0 = Math.max(cs.x, Math.min(a[0], b[0]));
    const x1 = Math.min(cs.x + cs.width, Math.max(a[0], b[0]));
    const y0 = Math.min(a[1], b[1]);
    const h = Math.abs(a[1] - b[1]);
    return {
      type: 'rect',
      shape: { x: x0, y: y0, width: x1 - x0, height: h },
      style: { fill: periodColors[params.dataIndex], stroke: '#3a3a3a', lineWidth: 1 },
      textContent: { style: { text: periodNames[params.dataIndex], fontSize: 21, fill: '#222', fontFamily: FONT } },
      textConfig: { position: 'inside' }
    };
  }
});

const option = {
  animation: false,
  backgroundColor: '#fff',
  grid: [
    { left: 120, right: 2, top: 20, height: 592 },
    { left: 120, right: 2, top: 620, height: 41 }
  ],
  xAxis: [
    { type: 'value', gridIndex: 0, min: AGE_MIN, max: AGE_MAX, inverse: true, show: false },
    { type: 'value', gridIndex: 1, min: AGE_MIN, max: AGE_MAX, inverse: true, position: 'bottom',
      axisLine: { show: false }, splitLine: { show: false },
      axisTick: { show: true, customValues: tickValues, length: 24, lineStyle: { color: '#222', width: 1.2 } },
      axisLabel: { show: true, customValues: tickValues, rotate: 90, margin: 27, fontSize: 14, color: '#222', fontFamily: FONT,
        formatter: v => tickLabels[tickValues.indexOf(v)] } },
    { type: 'value', gridIndex: 1, min: AGE_MIN, max: AGE_MAX, inverse: true, position: 'bottom',
      axisLine: { show: false }, splitLine: { show: false }, axisLabel: { show: false },
      axisTick: { show: true, customValues: minorTicks, length: 19, lineStyle: { color: '#555', width: 0.8 } } }
  ],
  yAxis: [
    { type: 'value', gridIndex: 0, min: 0, max: 6, interval: 1, offset: 30,
      name: 'Relative rate of evolution', nameLocation: 'middle', nameGap: 57, nameRotate: 90,
      nameTextStyle: { fontSize: 21, color: '#222', fontFamily: FONT },
      axisLine: { show: true, lineStyle: { color: '#333', width: 1 } },
      axisTick: { show: true, length: 7, lineStyle: { color: '#333' } },
      axisLabel: { rotate: 90, margin: 11, fontSize: 16, color: '#222', fontFamily: FONT,
        formatter: v => yTicks.indexOf(v) >= 0 ? String(v) : '' },
      splitLine: { show: false } },
    { type: 'value', gridIndex: 1, min: 0, max: 1, show: false }
  ],
  series: series
};
const chart = echarts.init(document.getElementById('c'), null, { renderer: 'canvas' });
chart.setOption(option);
</script></body></html>
